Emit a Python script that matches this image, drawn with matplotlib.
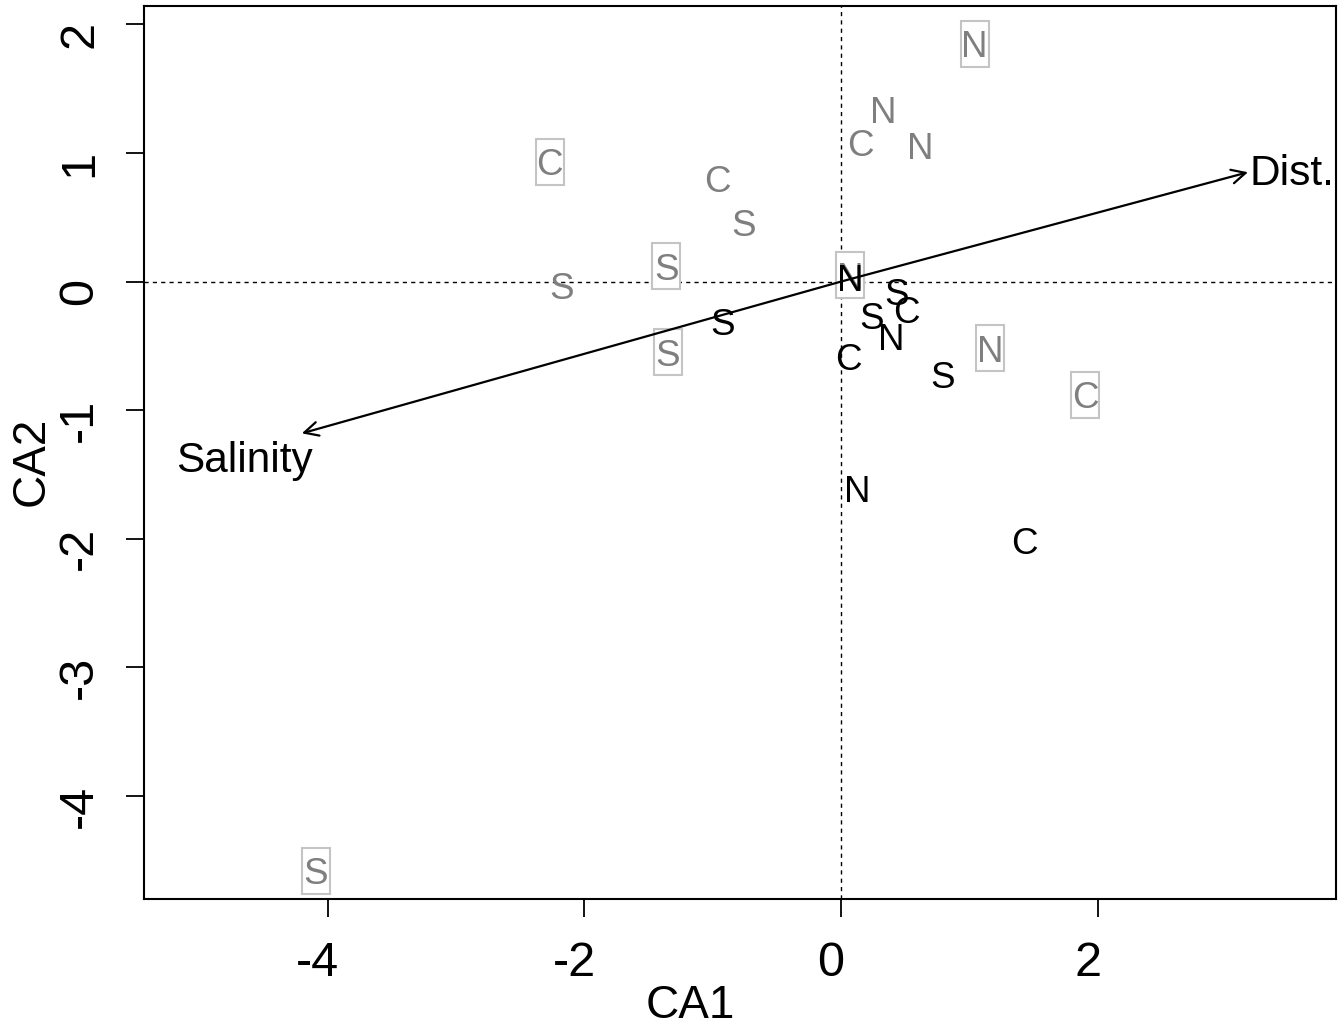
import matplotlib
matplotlib.use('Agg')
import matplotlib.pyplot as plt
from matplotlib.patches import Rectangle
from matplotlib.transforms import ScaledTranslation

plt.rcParams['font.family'] = ['Liberation Sans', 'DejaVu Sans']
plt.rcParams['axes.unicode_minus'] = False

# sites drawn in grey with a frame
boxed_lab = ['N', 'C', 'S', 'N', 'S', 'N', 'C', 'S']
boxed_x = [1.04, -2.27, -1.36, 0.07, -1.35, 1.16, 1.90, -4.09]
boxed_y = [1.85, 0.93, 0.12, 0.05, -0.55, -0.52, -0.88, -4.58]

# sites drawn in grey, no frame
grey_lab = ['N', 'C', 'N', 'C', 'S', 'S']
grey_x = [0.33, 0.15, 0.62, -0.96, -0.76, -2.18]
grey_y = [1.34, 1.08, 1.06, 0.80, 0.46, -0.03]

# sites drawn in black
black_lab = ['N', 'S', 'S', 'C', 'N', 'S', 'C', 'S', 'N', 'C']
black_x = [0.07, 0.43, 0.24, 0.51, 0.39, -0.92, 0.06, 0.79, 0.13, 1.43]
black_y = [0.03, -0.08, -0.26, -0.22, -0.43, -0.31, -0.58, -0.72, -1.61, -2.01]

# environmental vectors
env_lab = ['Dist.', 'Salinity']
env_x = [3.17, -4.20]
env_y = [0.85, -1.18]
env_lab_x = [3.51, -4.65]
env_lab_y = [0.87, -1.36]

fig = plt.figure(figsize=(13.39, 10.30), dpi=100)
ax = fig.add_axes([0.1075, 0.1272, 0.8902, 0.8673])
ax.set_xlim(-5.43, 3.855)
ax.set_ylim(-4.80, 2.145)

ax.axhline(0, color='black', lw=1.0, ls=(0, (3, 3)), zorder=1)
ax.axvline(0, color='black', lw=1.0, ls=(0, (3, 3)), zorder=1)

for lab, x, y in zip(boxed_lab, boxed_x, boxed_y):
    tr = fig.dpi_scale_trans + ScaledTranslation(x, y, ax.transData)
    ax.add_patch(Rectangle((-0.14, -0.23), 0.28, 0.46, transform=tr,
                           fc='white', ec='#c4c4c4', lw=1.5, zorder=2))
    ax.text(x, y, lab, color='#7f7f7f', fontsize=26.5, ha='center',
            va='center_baseline', zorder=3)

for lab, x, y in zip(grey_lab, grey_x, grey_y):
    ax.text(x, y, lab, color='#7f7f7f', fontsize=26.5, ha='center',
            va='center_baseline', zorder=3)

for lab, x, y in zip(black_lab, black_x, black_y):
    ax.text(x, y, lab, color='black', fontsize=26.5, ha='center',
            va='center_baseline', zorder=4)

for lab, x, y, lx, ly in zip(env_lab, env_x, env_y, env_lab_x, env_lab_y):
    ax.annotate('', xy=(x, y), xytext=(0, 0), zorder=5,
                arrowprops=dict(arrowstyle='->,head_length=0.5,head_width=0.25',
                                lw=1.6, color='black', shrinkA=0, shrinkB=0,
                                mutation_scale=20))
    ax.text(lx, ly, lab, fontsize=30.5, ha='center', va='center_baseline', zorder=5)

ax.set_xticks([-4, -2, 0, 2])
ax.set_yticks([-4, -3, -2, -1, 0, 1, 2])
ax.tick_params(length=13, width=1.3, labelsize=35, pad=17, direction='out')
ax.tick_params(axis='y', labelrotation=90)
for lab in ax.get_yticklabels():
    lab.set_va('center')
    lab.set_transform(lab.get_transform() + ScaledTranslation(0, -0.10, fig.dpi_scale_trans))
for lab in ax.get_xticklabels():
    lab.set_transform(lab.get_transform() + ScaledTranslation(-0.10, 0, fig.dpi_scale_trans))
for s in ax.spines.values():
    s.set_linewidth(1.5)

fig.text(690 / 1339, 1 - 1001 / 1030, 'CA1', fontsize=33, ha='center', va='center_baseline')
fig.text(31.5 / 1339, 1 - 461.5 / 1030, 'CA2', fontsize=33, rotation=90, ha='center', va='center')

fig.savefig('out.png', dpi=100)
